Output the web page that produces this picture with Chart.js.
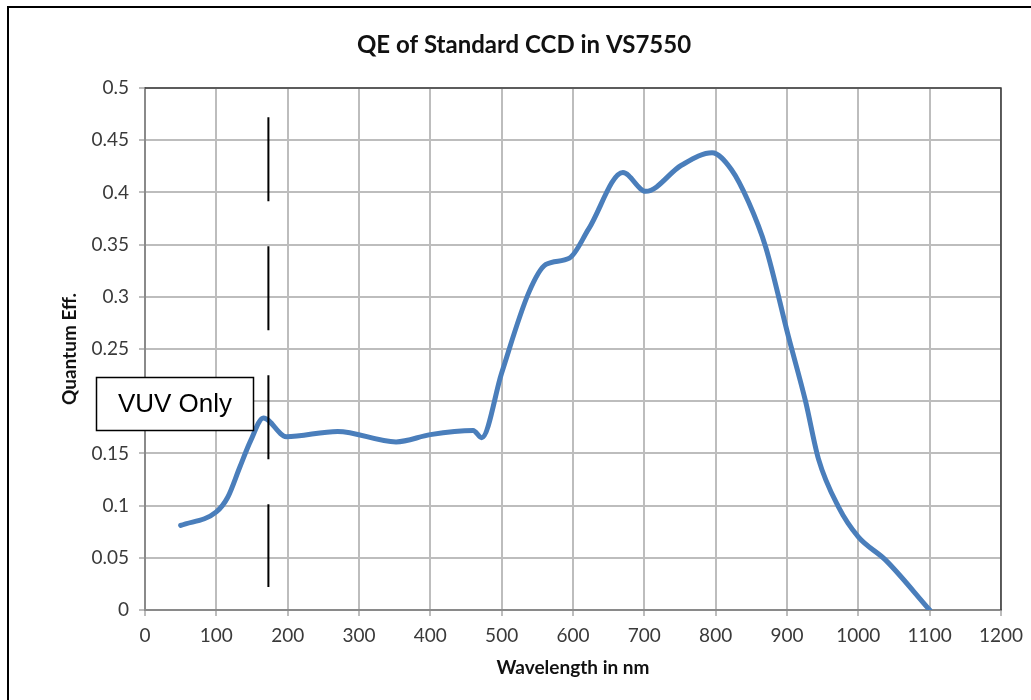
<!DOCTYPE html>
<html>
<head>
<meta charset="utf-8">
<title>QE of Standard CCD in VS7550</title>
<script src="https://cdn.jsdelivr.net/npm/chart.js@4/dist/chart.umd.min.js"></script>
<style>
  html, body { margin: 0; padding: 0; background: #fff; overflow: hidden; }
  #frame { position: absolute; left: 7px; top: 6px; width: 1100px; height: 800px; border: 2px solid #000; }
  #wrap { position: absolute; left: 0; top: 0; width: 1031px; height: 700px; }
</style>
</head>
<body>
<div id="frame"></div>
<div id="wrap"><canvas id="qeChart" width="1031" height="700"></canvas></div>
<script>
// Data
const wavelengths = [50, 100, 116, 133, 148, 166, 198, 270, 352, 400, 460, 472, 500, 538, 562, 595, 622, 670, 702, 752, 795, 822, 846, 870, 902, 926, 944, 972, 1000, 1038, 1100];
const qe = [0.081, 0.094, 0.108, 0.137, 0.162, 0.184, 0.166, 0.171, 0.161, 0.168, 0.172, 0.165, 0.227, 0.304, 0.331, 0.337, 0.365, 0.419, 0.401, 0.426, 0.438, 0.422, 0.391, 0.348, 0.262, 0.200, 0.145, 0.099, 0.070, 0.048, 0.000];

// Tick labels
const xTickLabels = ['0', '100', '200', '300', '400', '500', '600', '700', '800', '900', '1000', '1100', '1200'];
const yTickLabels = ['0', '0.05', '0.1', '0.15', '0.2', '0.25', '0.3', '0.35', '0.4', '0.45', '0.5'];

// VUV marker line (wavelength, top and bottom QE)
const vuvX = [173, 173];
const vuvY = [0.472, 0.022];

// "VUV Only" label box in data units
const vuvBoxText = 'VUV Only';
const vuvBoxX = [-68.5, 151];
const vuvBoxY = [0.2236, 0.1727];

const TICK_FONT = { family: 'Lato', size: 19 };
const TICK_COLOR = '#3a3a3a';
const GRID_COLOR = '#bdbdbd';
const AXIS_COLOR = '#8a8a8a';

// dark border on the top and right side of the plot area
const plotBorder = {
    id: 'plotBorder',
    beforeDatasetsDraw(chart) {
        const { ctx, chartArea } = chart;
        ctx.save();
        ctx.strokeStyle = '#3c3c3c';
        ctx.lineWidth = 1.5;
        ctx.beginPath();
        ctx.moveTo(chartArea.left, chartArea.top);
        ctx.lineTo(chartArea.right, chartArea.top);
        ctx.lineTo(chartArea.right, chartArea.bottom);
        ctx.stroke();
        ctx.restore();
    }
};

// the "VUV Only" text box
const vuvBox = {
    id: 'vuvBox',
    afterDraw(chart) {
        const { ctx } = chart;
        const x = chart.scales.x;
        const y = chart.scales.y;
        const left = Math.round(x.getPixelForValue(vuvBoxX[0])) + 0.5;
        const right = Math.round(x.getPixelForValue(vuvBoxX[1])) + 0.5;
        const top = Math.round(y.getPixelForValue(vuvBoxY[0])) + 0.5;
        const bottom = Math.round(y.getPixelForValue(vuvBoxY[1])) + 0.5;
        ctx.save();
        ctx.fillStyle = '#fff';
        ctx.fillRect(left, top, right - left, bottom - top);
        ctx.strokeStyle = '#000';
        ctx.lineWidth = 1.5;
        ctx.strokeRect(left, top, right - left, bottom - top);
        ctx.fillStyle = '#000';
        ctx.font = '26px "Liberation Sans", Arial, sans-serif';
        ctx.textAlign = 'center';
        ctx.textBaseline = 'middle';
        ctx.fillText(vuvBoxText, (left + right) / 2, (top + bottom) / 2 + 1);
        ctx.restore();
    }
};

const ctx = document.getElementById('qeChart').getContext('2d');
const qeChart = new Chart(ctx, {
    type: 'line',
    data: {
        datasets: [{
            label: 'VUV',
            data: vuvX.map((v, i) => ({ x: v, y: vuvY[i] })),
            borderColor: '#000',
            borderWidth: 2,
            borderDash: [84, 45],
            pointRadius: 0,
            tension: 0
        }, {
            label: 'QE',
            data: wavelengths.map((w, i) => ({ x: w, y: qe[i] })),
            borderColor: '#4a7ebb',
            borderWidth: 5,
            pointRadius: 0,
            cubicInterpolationMode: 'monotone',
            borderCapStyle: 'round',
            borderJoinStyle: 'round'
        }]
    },
    options: {
        responsive: false,
        animation: false,
        layout: { padding: { left: 45, right: 28, top: 0, bottom: 0 } },
        plugins: {
            legend: { display: false },
            tooltip: { enabled: false },
            title: {
                display: true,
                text: 'QE of Standard CCD in VS7550',
                color: '#111',
                font: { family: 'Lato', size: 24, weight: 'bold', lineHeight: 1.2 },
                padding: { top: 30.6, bottom: 28.6 }
            }
        },
        scales: {
            x: {
                type: 'linear',
                min: 0,
                max: 1200,
                ticks: {
                    stepSize: 100,
                    color: TICK_COLOR,
                    font: TICK_FONT,
                    padding: 8,
                    maxRotation: 0,
                    callback: (v, i) => xTickLabels[i]
                },
                grid: { color: GRID_COLOR, lineWidth: 2, tickLength: 6 },
                border: { color: AXIS_COLOR, width: 2 },
                title: {
                    display: true,
                    text: 'Wavelength in nm',
                    color: '#111',
                    font: { family: 'Lato', size: 19, weight: 'bold', lineHeight: 1.2 },
                    padding: { top: 0, bottom: 20.6 }
                },
                afterFit(scale) { scale.height = 90; }
            },
            y: {
                min: 0,
                max: 0.5,
                ticks: {
                    stepSize: 0.05,
                    color: TICK_COLOR,
                    font: TICK_FONT,
                    padding: 10,
                    callback: (v, i) => yTickLabels[i]
                },
                grid: { color: GRID_COLOR, lineWidth: 2, tickLength: 6 },
                border: { color: AXIS_COLOR, width: 2 },
                title: {
                    display: true,
                    text: 'Quantum Eff.',
                    color: '#111',
                    font: { family: 'Lato', size: 19, weight: 'bold', lineHeight: 1.2 },
                    padding: { top: 13.6, bottom: 0 }
                },
                afterFit(scale) { scale.width = 100; }
            }
        }
    },
    plugins: [plotBorder, vuvBox]
});
</script>
</body>
</html>
